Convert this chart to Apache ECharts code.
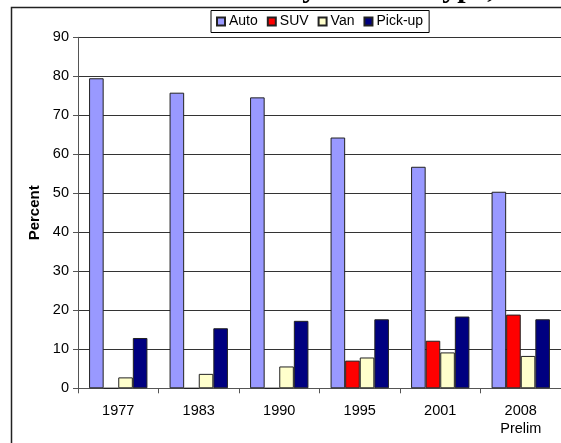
<!DOCTYPE html>
<html>
<head>
<meta charset="utf-8">
<script src="https://cdn.jsdelivr.net/npm/echarts@6/dist/echarts.min.js"></script>
<style>
  html, body { margin: 0; padding: 0; background: #fff; }
  #chart { width: 561px; height: 443px; }
</style>
</head>
<body>
<div id="chart"></div>
<script>
// years on the x axis
const years = ["1977", "1983", "1990", "1995", "2001", "2008\nPrelim"];
// percent of vehicles by type
const auto = [79.5, 75.8, 74.6, 64.3, 56.8, 50.4];
const suv = [0, 0, 0, 7.1, 12.2, 18.9];
const van = [2.8, 3.7, 5.6, 7.9, 9.2, 8.3];
const pickup = [12.9, 15.4, 17.3, 17.7, 18.4, 17.7];

const font = "Liberation Sans";

const chart = echarts.init(document.getElementById("chart"));

function barSeries(name, data, color) {
  return {
    name: name,
    type: "bar",
    data: data,
    barGap: "0%",
    barCategoryGap: "27.5%",
    itemStyle: { color: color, borderColor: "#222", borderWidth: 1 }
  };
}

chart.setOption({
  backgroundColor: "#fff",
  animation: false,
  graphic: [
    {
      type: "rect",
      shape: { x: 11.5, y: 7.5, width: 700, height: 600 },
      style: { fill: "none", stroke: "#222", lineWidth: 1.5 },
      z: 0
    },
    {
      type: "text",
      style: {
        x: 30,
        y: -11,
        text: "Household Vehicles by Vehicle Type, 1977-2008",
        font: "bold 30px 'Liberation Serif'",
        fill: "#000",
        verticalAlign: "middle"
      },
      z: 10
    }
  ],
  legend: {
    left: 211,
    top: 10.5,
    padding: [4, 6, 4, 5],
    borderColor: "#000",
    borderWidth: 1,
    icon: "rect",
    itemWidth: 8,
    itemHeight: 8,
    itemGap: 9,
    textStyle: { fontFamily: font, fontSize: 14, color: "#000", padding: [0, 0, 0, -1] },
    data: ["Auto", "SUV", "Van", "Pick-up"]
  },
  grid: {
    left: 78,
    top: 37.3,
    width: 488,
    height: 351
  },
  xAxis: {
    type: "category",
    data: years,
    axisLine: { lineStyle: { color: "#555" } },
    axisTick: { show: true, length: 5, lineStyle: { color: "#555" } },
    axisLabel: {
      fontFamily: font,
      fontSize: 14.5,
      color: "#000",
      margin: 14,
      lineHeight: 18
    }
  },
  yAxis: {
    type: "value",
    min: 0,
    max: 90,
    interval: 10,
    name: "Percent",
    nameLocation: "middle",
    nameGap: 35,
    nameTextStyle: { fontFamily: font, fontSize: 15, fontWeight: "bold", color: "#000" },
    axisLine: { show: true, lineStyle: { color: "#555" } },
    axisTick: { show: true, length: 5, lineStyle: { color: "#555" } },
    axisLabel: { fontFamily: font, fontSize: 14.5, color: "#000", margin: 9 },
    splitLine: { lineStyle: { color: "#333", width: 1 } }
  },
  series: [
    barSeries("Auto", auto, "#9999FF"),
    barSeries("SUV", suv, "#FF0000"),
    barSeries("Van", van, "#FFFFCC"),
    barSeries("Pick-up", pickup, "#000080")
  ]
});
</script>
</body>
</html>
